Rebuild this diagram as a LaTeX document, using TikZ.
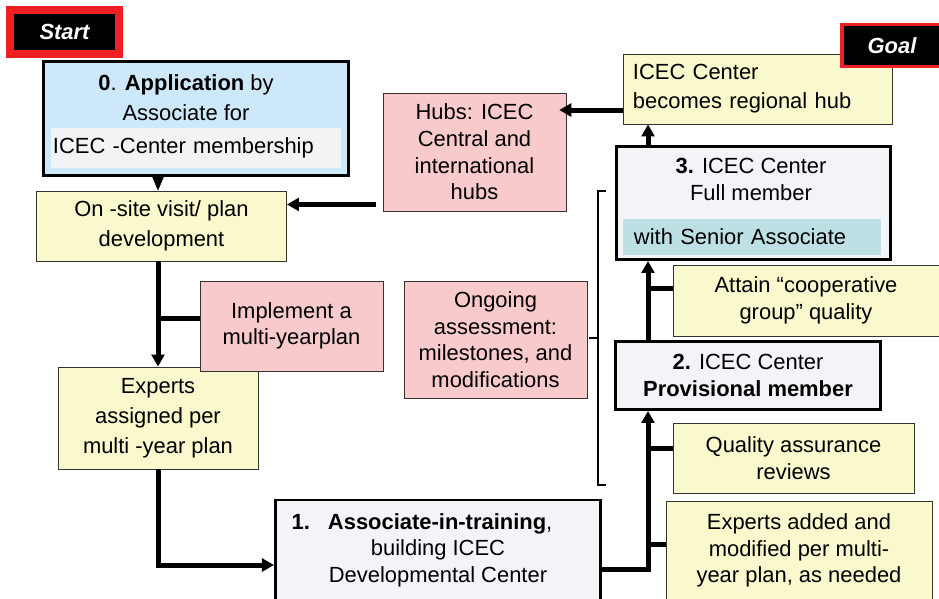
\documentclass[tikz,border=0pt]{standalone}
\usepackage{fontspec}
\setmainfont{Liberation Sans}
\usetikzlibrary{arrows.meta}
\definecolor{appblue}{HTML}{CDE8F8}
\definecolor{bandgray}{HTML}{F2F3F5}
\definecolor{boxyellow}{HTML}{FAF9CD}
\definecolor{boxpink}{HTML}{F8CACC}
\definecolor{boxgray}{HTML}{F3F4F7}
\definecolor{bandteal}{HTML}{BCE0E3}
\definecolor{tagred}{HTML}{EE2024}

\begin{document}
\begin{tikzpicture}[x=0.025cm, y=-0.025cm,
    font=\fontsize{15.6}{18.9}\selectfont,
    wide/.style={font=\fontsize{15.6}{21.3}\selectfont},
    flat/.style={draw=black!80, line width=0.6pt, inner sep=0pt, align=center},
    yellowbox/.style={flat, fill=boxyellow},
    pinkbox/.style={flat, fill=boxpink},
    stagebox/.style={draw=black, line width=2.1pt, fill=boxgray, inner sep=0pt, align=center},
    tag/.style={fill=black, text=white, inner sep=0pt, font=\fontsize{15.6}{18.9}\selectfont\bfseries\itshape},
    bigline/.style={line width=0.125cm},
    bigarrow/.style={bigline, -{Triangle[width=0.32cm, length=0.3cm]}},
    bracket/.style={line width=1.7pt}]
    \useasboundingbox (0,0) rectangle (939,598);

    \node[tag, draw=tagred, line width=0.2cm, minimum width=2.725cm, minimum height=1.1cm] (start) at (64.5,32) {Start};

    \node[stagebox, fill=appblue, minimum width=7.625cm, minimum height=2.85cm] (app) at (196,118.5) {};
    \node[wide, align=center] (apptitle) at (186,98) {\textbf{0}. \textbf{Application} by\\Associate for};
    \node[fill=bandgray, inner xsep=0.05cm, inner ysep=0pt, text width=7.15cm, minimum height=1cm, align=left] (appband) at (196,148) {ICEC -Center membership};

    \node[yellowbox, wide, minimum width=6.25cm, minimum height=1.75cm] (onsite) at (161.5,226) {On -site visit/ plan\\development};
    \node[pinkbox, minimum width=4.575cm, minimum height=2.95cm] (hubs) at (474.5,152) {Hubs: ICEC\\Central and\\international\\hubs};
    \node[yellowbox, font=\fontsize{15.6}{20.6}\selectfont, align=left, text width=6.225cm, inner xsep=0.25cm, minimum height=1.75cm] (regional) at (757.5,89) {ICEC Center\\becomes regional hub};
    \node[tag, draw=tagred, line width=0.075cm, minimum width=2.5cm, minimum height=1.025cm] (goal) at (892,45.5) {Goal};

    \node[stagebox, minimum width=6.85cm, minimum height=2.825cm] (full) at (753.5,203) {};
    \node[align=center] (fulltitle) at (751,179.5) {\textbf{3.} ICEC Center\\Full member};
    \node[fill=bandteal, inner xsep=0.275cm, inner ysep=0pt, text width=5.9cm, minimum height=0.9cm, align=left] (fullband) at (752,237) {with Senior Associate};

    \node[yellowbox, wide, minimum width=5cm, minimum height=2.55cm] (experts) at (158,418) {Experts\\assigned per\\multi -year plan};
    \node[pinkbox, minimum width=4.575cm, minimum height=2.25cm] (implement) at (291.5,326) {Implement a\\multi-yearplan};
    \node[pinkbox, minimum width=4.575cm, minimum height=2.925cm] (ongoing) at (495.5,339.5) {Ongoing\\assessment:\\milestones, and\\modifications};

    \node[yellowbox, minimum width=6.65cm, minimum height=1.775cm] (attain) at (806,300.5) {Attain “cooperative\\group” quality};
    \node[stagebox, minimum width=6.625cm, minimum height=1.7cm] (provisional) at (748,375.5) {\textbf{2.} ICEC Center\\\textbf{Provisional member}};
    \node[yellowbox, minimum width=6.025cm, minimum height=1.75cm] (quality) at (793.5,458) {Quality assurance\\reviews};
    \node[stagebox, minimum width=8.125cm, minimum height=2.5cm] (associate) at (438,550) {\textbf{1.}\hspace{0.45cm}\textbf{Associate-in-training},\hspace*{0.8cm}\\building ICEC\\Developmental Center};
    \node[yellowbox, minimum width=6.65cm, minimum height=2.475cm] (expadded) at (799,550.5) {Experts added and\\modified per multi-\\year plan, as needed};

    \coordinate (spine) at (648,569);
    \coordinate (implin) at ([yshift=0.2cm]implement.west);
    \coordinate (associn) at ([yshift=-0.375cm]associate.west);
    \coordinate (hubsout) at ([xshift=-0.175cm, yshift=0.175cm]hubs.south west);
    \coordinate (regout) at ([yshift=-0.525cm]regional.west);
    \coordinate (assocout) at ([yshift=-0.475cm]associate.east);
    \coordinate (attin) at ([yshift=0.29cm]attain.west);
    \coordinate (qualin) at ([yshift=0.25cm]quality.west);
    \coordinate (expin) at ([yshift=0.16cm]expadded.west);

    \draw[line width=0.4pt, -{Triangle[width=0.3cm, length=0.36cm]}] ([yshift=-1pt]app.south -| experts.north) -- (onsite.north -| experts.north);
    \draw[bigarrow] (onsite.south -| experts.north) -- (experts.north);
    \draw[bigline] (implin) -- (implin -| experts.north);
    \draw[bigarrow] (experts.south) |- (associn);
    \draw[bigarrow] (hubsout) -- (hubsout -| onsite.east);
    \draw[bigarrow, shorten >=-0.18cm] (regout) -- (regout -| hubs.east);
    \draw[bigarrow] (full.north -| spine) -- (regional.south -| spine);
    \draw[bigarrow] (provisional.north -| spine) -- (full.south -| spine);
    \draw[bigarrow] (assocout) -| (provisional.south -| spine);
    \draw[bigline] (attin) -- (attin -| spine);
    \draw[bigline] (qualin) -- (qualin -| spine);
    \draw[bigline] (expin) -- (expin -| spine);

    \draw[bracket] (606,191) -- (598,191) -- (598,485) -- (606,485);
    \draw[bracket] (598,338) -- (589,338);
\end{tikzpicture}
\end{document}
